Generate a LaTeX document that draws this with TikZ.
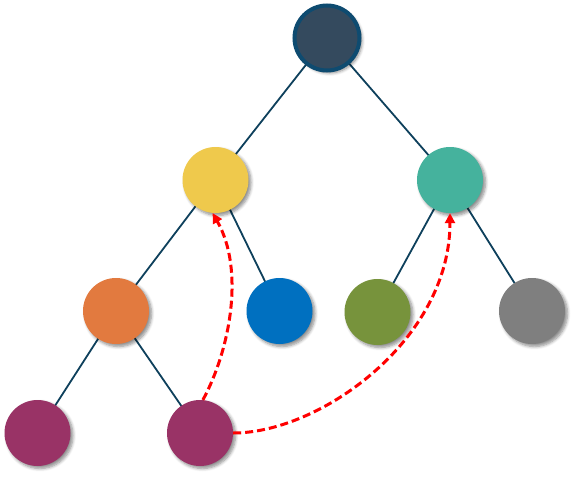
\documentclass[tikz,border=0pt]{standalone}
\usetikzlibrary{shadows.blur,backgrounds,arrows.meta}
\definecolor{rootfill}{HTML}{344A5E}
\definecolor{rootdraw}{HTML}{0E4B70}
\definecolor{edgecol}{HTML}{0E405C}
\definecolor{cyellow}{HTML}{EFC94C}
\definecolor{cteal}{HTML}{45B29D}
\definecolor{corange}{HTML}{E27A3F}
\definecolor{cblue}{HTML}{0070C0}
\definecolor{colive}{HTML}{77933C}
\definecolor{cgray}{HTML}{7F7F7F}
\definecolor{cpurple}{HTML}{993366}
\begin{document}
\begin{tikzpicture}[x=1pt,y=1pt,
  ball/.style={circle,inner sep=0pt,minimum size=66pt,draw=none,
    blur shadow={shadow xshift=2.5pt,shadow yshift=-2.5pt,shadow blur steps=6,shadow opacity=45,shadow blur radius=3pt}},
  edge/.style={draw=edgecol,line width=1.8pt},
  jump/.style={draw=red,line width=3pt,dash pattern=on 8pt off 4pt,-{Triangle[length=10pt,width=10pt]}}]
\useasboundingbox (0,0) rectangle (579,-479);
\node[ball,fill=rootfill,draw=rootdraw,line width=4pt,minimum size=65pt] (root) at (327,-38) {};
\node[ball,fill=cyellow] (yel) at (215.5,-180) {};
\node[ball,fill=cteal] (teal) at (450,-180) {};
\node[ball,fill=corange] (ora) at (116,-311) {};
\node[ball,fill=cblue] (blu) at (279.5,-311) {};
\node[ball,fill=colive] (oli) at (377.5,-312) {};
\node[ball,fill=cgray] (gra) at (532,-311) {};
\node[ball,fill=cpurple] (pL) at (37.5,-433) {};
\node[ball,fill=cpurple] (pR) at (200,-433) {};
\begin{scope}[on background layer]
\draw[edge] (root.center) -- (yel.center);
\draw[edge] (root.center) -- (teal.center);
\draw[edge] (yel.center) -- (ora.center);
\draw[edge] (yel.center) -- (blu.center);
\draw[edge] (teal.center) -- (oli.center);
\draw[edge] (teal.center) -- (gra.center);
\draw[edge] (ora.center) -- (pL.center);
\draw[edge] (ora.center) -- (pR.center);
\end{scope}
\draw[jump] (pR.85) .. controls (230,-350) and (245,-270) .. (yel.-95);
\draw[jump] (pR.east) .. controls (320,-433) and (450,-340) .. (teal.south);
\end{tikzpicture}
\end{document}
